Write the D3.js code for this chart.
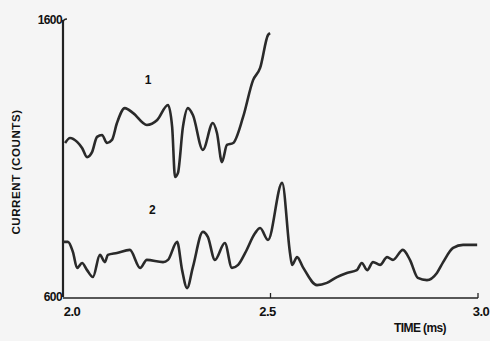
<!DOCTYPE html>
<html>
<head>
<meta charset="utf-8">
<script src="https://cdn.jsdelivr.net/npm/d3@7"></script>
<style>
  body { margin: 0; background: #f5f5f5; }
  svg { display: block; }
  text { font-family: "Liberation Sans", Arial, sans-serif; font-weight: bold; fill: #111; }
</style>
</head>
<body>
<svg id="chart" width="490" height="341"></svg>
<script>
// trace 1 (upper curve), time in ms / counts
const trace1Time = [2.005, 2.017, 2.034, 2.046, 2.058, 2.070, 2.082, 2.094, 2.106, 2.118,
  2.130, 2.149, 2.169, 2.202, 2.227, 2.253, 2.263, 2.270, 2.277, 2.289, 2.301, 2.313,
  2.337, 2.361, 2.371, 2.383, 2.395, 2.410, 2.434, 2.458, 2.475, 2.494, 2.499];
const trace1Counts = [1156, 1174, 1160, 1138, 1105, 1123, 1178, 1185, 1156, 1167,
  1228, 1282, 1264, 1221, 1239, 1293, 1214, 1033, 1048, 1214, 1282, 1257,
  1131, 1228, 1192, 1087, 1149, 1156, 1250, 1383, 1427, 1546, 1553];

// trace 2 (lower curve)
const trace2Time = [2.000, 2.012, 2.024, 2.034, 2.046, 2.058, 2.072, 2.089, 2.101, 2.108,
  2.130, 2.161, 2.186, 2.202, 2.241, 2.253, 2.275, 2.287, 2.299, 2.313, 2.337, 2.349,
  2.366, 2.390, 2.407, 2.422, 2.439, 2.463, 2.475, 2.494, 2.528, 2.547, 2.552, 2.564,
  2.578, 2.612, 2.636, 2.660, 2.684, 2.708, 2.720, 2.733, 2.747, 2.764, 2.781, 2.795,
  2.819, 2.836, 2.855, 2.877, 2.901, 2.916, 2.940, 2.964, 2.998];
const trace2Counts = [799, 799, 762, 705, 723, 697, 672, 752, 726, 752,
  759, 770, 705, 734, 726, 734, 799, 697, 632, 708, 835, 817,
  734, 795, 705, 716, 759, 831, 849, 806, 1012, 759, 716, 744,
  708, 643, 651, 672, 687, 697, 723, 697, 726, 716, 744, 734,
  770, 734, 669, 661, 687, 726, 777, 788, 788];

const xTicks = [2.0, 2.5, 3.0];
const yTicks = [600, 1600];
const traceLabels = ['1', '2'];

const svg = d3.select('#chart');
const x = d3.scaleLinear().domain([2.0, 3.0]).range([63, 478]);
const y = d3.scaleLinear().domain([600, 1600]).range([297, 20]);

// axes
svg.append('line')
  .attr('x1', x(2.0)).attr('x2', x(2.0))
  .attr('y1', y(1600)).attr('y2', y(600))
  .attr('stroke', '#222').attr('stroke-width', 2.2);
svg.append('line')
  .attr('x1', x(2.0)).attr('x2', x(3.0))
  .attr('y1', y(600) + 1).attr('y2', y(600) + 1)
  .attr('stroke', '#222').attr('stroke-width', 1.6);
// little hook at top of y-axis
svg.append('path')
  .attr('d', `M${x(2.0)},${y(1600) + 3} q0,-4 4,-4`)
  .attr('fill', 'none').attr('stroke', '#222').attr('stroke-width', 1.5);
// x tick marks
xTicks.slice(1).forEach((t) => {
  svg.append('line')
    .attr('x1', x(t)).attr('x2', x(t))
    .attr('y1', y(600) + 1).attr('y2', y(600) - 4)
    .attr('stroke', '#222').attr('stroke-width', 1.3);
});

svg.selectAll('.xlab')
  .data(xTicks)
  .enter()
  .append('text')
  .attr('class', 'xlab')
  .attr('x', (d) => x(d) + (d === 2.0 ? 9 : d === 3.0 ? 3 : -3))
  .attr('y', 316)
  .attr('text-anchor', 'middle')
  .style('font-size', '13px')
  .style('letter-spacing', '-0.5px')
  .text((d) => d.toFixed(1));

svg.selectAll('.ylab')
  .data(yTicks)
  .enter()
  .append('text')
  .attr('class', 'ylab')
  .attr('x', x(2.0) - 1)
  .attr('y', (d) => y(d) + 4)
  .attr('text-anchor', 'end')
  .style('font-size', '12px')
  .style('letter-spacing', '-0.6px')
  .text((d) => d);

svg.append('text')
  .attr('transform', 'translate(20,172) rotate(-90)')
  .attr('text-anchor', 'middle')
  .style('font-size', '11.5px')
  .style('letter-spacing', '0.6px')
  .text('CURRENT  (COUNTS)');

svg.append('text')
  .attr('x', 420)
  .attr('y', 332)
  .attr('text-anchor', 'middle')
  .style('font-size', '12px')
  .style('letter-spacing', '-0.6px')
  .text('TIME (ms)');

// traces
const line = d3.line()
  .x((d) => x(d[0]))
  .y((d) => y(d[1]))
  .curve(d3.curveMonotoneX);

[[trace1Time, trace1Counts], [trace2Time, trace2Counts]].forEach(([t, c]) => {
  svg.append('path')
    .datum(t.map((v, i) => [v, c[i]]))
    .attr('d', line)
    .attr('fill', 'none')
    .attr('stroke', '#2a2a2a')
    .attr('stroke-width', 2.6)
    .attr('stroke-linejoin', 'round');
});

// curve labels
svg.append('text').attr('x', x(2.205)).attr('y', y(1370))
  .attr('text-anchor', 'middle').style('font-size', '12px').text(traceLabels[0]);
svg.append('text').attr('x', x(2.215)).attr('y', y(900))
  .attr('text-anchor', 'middle').style('font-size', '12px').text(traceLabels[1]);
</script>
</body>
</html>
